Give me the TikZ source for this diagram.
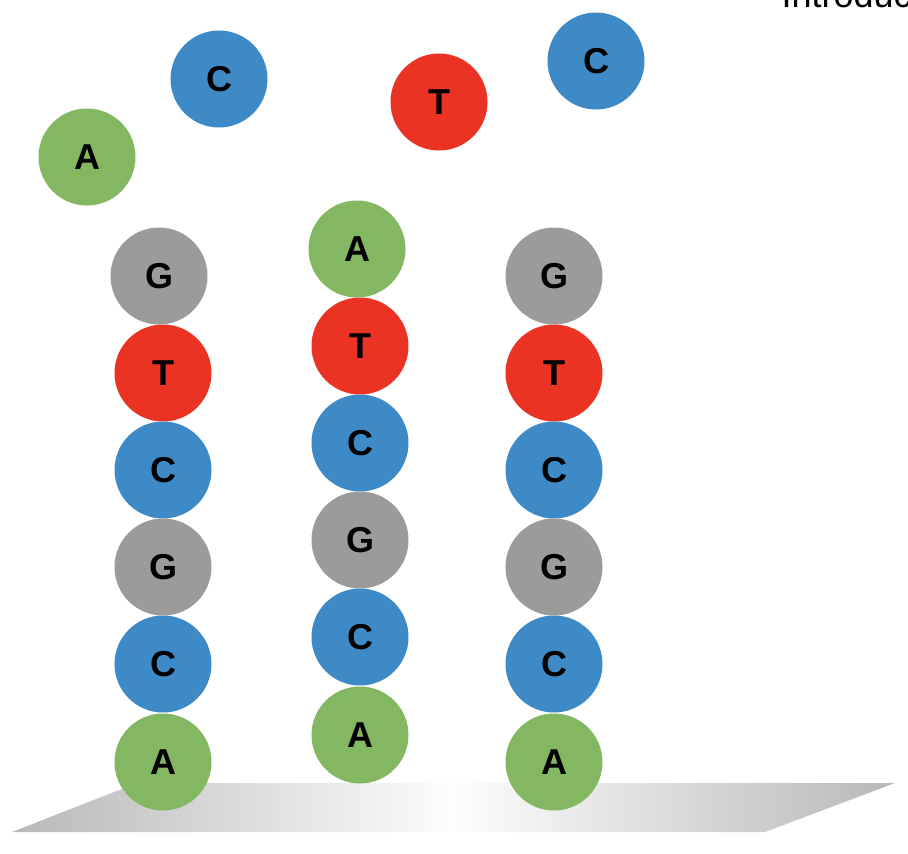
\documentclass[tikz,border=0pt]{standalone}
\usepackage{fontspec}
\setmainfont{Liberation Sans}
\definecolor{ngreen}{HTML}{84B761}
\definecolor{nblue}{HTML}{3D8AC6}
\definecolor{nred}{HTML}{EA3323}
\definecolor{ngray}{HTML}{9B9B9B}
\definecolor{plat}{HTML}{B8B8B8}
\tikzset{
  base/.style={circle, minimum size=97pt, inner sep=0pt, font=\fontsize{36}{36}\selectfont\bfseries, text=black},
  bA/.style={base, fill=ngreen},
  bC/.style={base, fill=nblue},
  bT/.style={base, fill=nred},
  bG/.style={base, fill=ngray},
}
\begin{document}
\begin{tikzpicture}[x=1pt,y=-1pt]
\useasboundingbox (0,0) rectangle (908,854);
\clip (0,0) rectangle (908,854);
% platform
\shade[left color=plat, right color=plat, middle color=white!97!plat]
  (12,832) -- (765,832) -- (895,783) -- (137,783) -- cycle;
\node[anchor=base west, font=\fontsize{36}{36}\selectfont] (title) at (778,7) {Introduction};
% free nucleotides
\node[bA] (fA) at (87,157) {A};
\node[bC] (fC1) at (219,79) {C};
\node[bT] (fT) at (439,102) {T};
\node[bC] (fC2) at (596,61) {C};
% column 1
\node[bG] (a1) at (159,276) {G};
\node[bT] (a2) at (163,373) {T};
\node[bC] (a3) at (163,470) {C};
\node[bG] (a4) at (163,567) {G};
\node[bC] (a5) at (163,664) {C};
\node[bA] (a6) at (163,762) {A};
% column 2
\node[bA] (b1) at (357,249) {A};
\node[bT] (b2) at (360,346) {T};
\node[bC] (b3) at (360,443) {C};
\node[bG] (b4) at (360,540) {G};
\node[bC] (b5) at (360,637) {C};
\node[bA] (b6) at (360,735) {A};
% column 3
\node[bG] (c1) at (554,276) {G};
\node[bT] (c2) at (554,373) {T};
\node[bC] (c3) at (554,470) {C};
\node[bG] (c4) at (554,567) {G};
\node[bC] (c5) at (554,664) {C};
\node[bA] (c6) at (554,762) {A};
\end{tikzpicture}
\end{document}
